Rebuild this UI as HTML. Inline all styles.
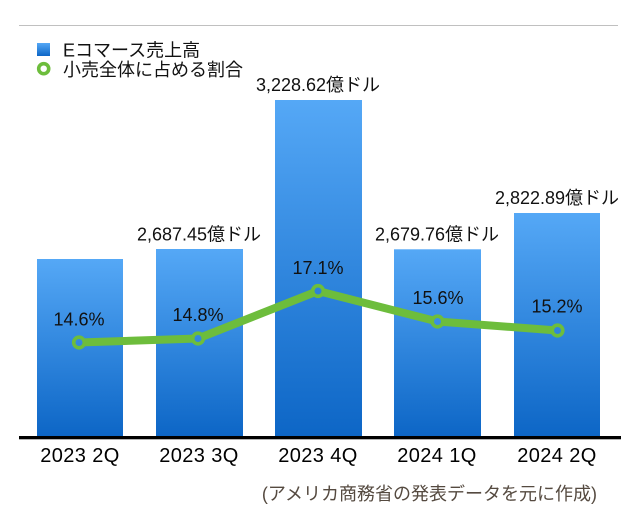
<!DOCTYPE html>
<html><head><meta charset="utf-8"><style>
html,body{margin:0;padding:0;background:#fff;}
svg{display:block;}
text{font-family:"Liberation Sans","Noto Sans CJK JP",sans-serif;}
</style></head><body>
<svg width="638" height="512" viewBox="0 0 638 512" xmlns="http://www.w3.org/2000/svg">
<defs>
<linearGradient id="g" x1="0" y1="0" x2="0" y2="1">
<stop offset="0" stop-color="#55a8f6"/>
<stop offset="1" stop-color="#0d66c6"/>
</linearGradient>
<mask id="m" maskUnits="userSpaceOnUse" x="0" y="0" width="638" height="512">
<rect x="0" y="0" width="638" height="512" fill="#fff"/>
<circle cx="79" cy="342.5" r="4" fill="#000"/>
<circle cx="198" cy="338.5" r="4" fill="#000"/>
<circle cx="318" cy="291" r="4" fill="#000"/>
<circle cx="437.5" cy="321.5" r="4" fill="#000"/>
<circle cx="557.5" cy="330.5" r="4" fill="#000"/>
</mask>
</defs>
<line x1="19" y1="25.5" x2="618" y2="25.5" stroke="#c0c0c0" stroke-width="1"/>
<!-- legend -->
<rect x="37" y="43" width="13" height="13" fill="url(#g)"/>
<text x="63" y="56.5" font-size="18" fill="#111">Eコマース売上高</text>
<circle cx="43.7" cy="68.7" r="5" fill="none" stroke="#6dbd3c" stroke-width="3.6"/>
<text x="63" y="76" font-size="18" fill="#111">小売全体に占める割合</text>
<!-- bars -->
<rect x="37" y="259" width="86" height="177" fill="url(#g)"/>
<rect x="156" y="249" width="87" height="187" fill="url(#g)"/>
<rect x="275" y="100" width="87" height="336" fill="url(#g)"/>
<rect x="394" y="249.3" width="87" height="186.7" fill="url(#g)"/>
<rect x="514" y="213" width="86" height="223" fill="url(#g)"/>
<!-- axis -->
<rect x="19" y="436" width="602" height="3.3" fill="#000"/>
<!-- value labels -->
<g font-size="18" fill="#111" text-anchor="middle">
<text x="199" y="240.5">2,687.45億ドル</text>
<text x="318" y="91">3,228.62億ドル</text>
<text x="437" y="240.5">2,679.76億ドル</text>
<text x="557" y="204">2,822.89億ドル</text>
</g>
<!-- line -->
<polyline points="79,342.5 198,338.5 318,291 437.5,321.5 557.5,330.5" fill="none" stroke="#6dbd3c" stroke-width="8" stroke-linejoin="round" mask="url(#m)"/>
<g fill="none" stroke="#6dbd3c" stroke-width="3.6">
<circle cx="79" cy="342.5" r="5.3"/>
<circle cx="198" cy="338.5" r="5.3"/>
<circle cx="318" cy="291" r="5.3"/>
<circle cx="437.5" cy="321.5" r="5.3"/>
<circle cx="557.5" cy="330.5" r="5.3"/>
</g>
<!-- percent labels -->
<g font-size="18" fill="#111" text-anchor="middle">
<text x="79" y="325.5">14.6%</text>
<text x="198" y="321">14.8%</text>
<text x="318" y="274">17.1%</text>
<text x="438" y="304">15.6%</text>
<text x="557" y="312.3">15.2%</text>
</g>
<!-- x labels -->
<g font-size="20" fill="#000" text-anchor="middle" letter-spacing="0.4">
<text x="80" y="462">2023 2Q</text>
<text x="199" y="462">2023 3Q</text>
<text x="318" y="462">2023 4Q</text>
<text x="437" y="462">2024 1Q</text>
<text x="557" y="462">2024 2Q</text>
</g>
<text x="597" y="500" font-size="18" fill="#554a40" text-anchor="end">(アメリカ商務省の発表データを元に作成)</text>
</svg>
</body></html>
